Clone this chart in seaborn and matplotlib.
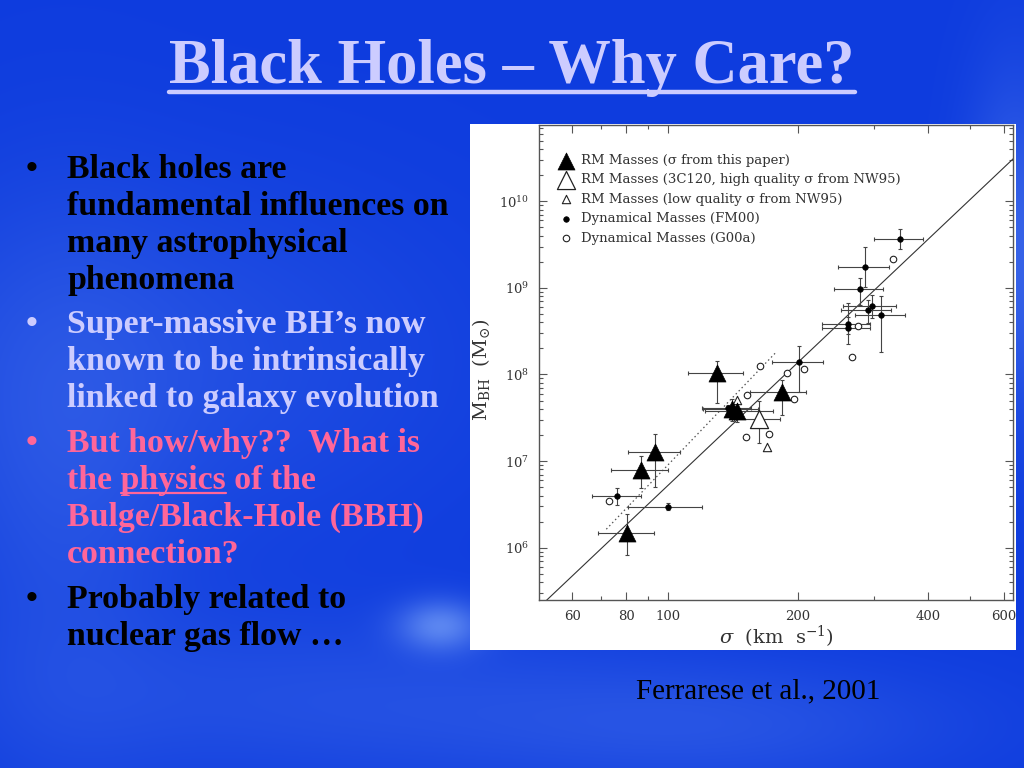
import numpy as np
import pandas as pd
import matplotlib
matplotlib.use("Agg")
import matplotlib.pyplot as plt
import seaborn as sns
from matplotlib.ticker import FixedLocator, FixedFormatter, LogLocator, NullFormatter, LogFormatterSciNotation
from matplotlib.patches import Rectangle
from matplotlib.lines import Line2D

# ---------------- data ----------------
rm_sigma = [130, 140.4, 144.2, 183.2, 93.5, 86.6, 80.5]
rm_mass = [1.05e8, 3.95e7, 3.74e7, 6.3e7, 1.26e7, 7.95e6, 1.49e6]
rm_sig_lo = [111.5, 120.3, 122, 155, 80.8, 74, 68.9]
rm_sig_hi = [149, 162, 174.6, 209, 106.6, 100, 92.7]
rm_m_lo = [4.7e7, 2.9e7, 2.8e7, 3.4e7, 5.0e6, 4.9e6, 8.2e5]
rm_m_hi = [1.45e8, 5.2e7, 4.6e7, 8.6e7, 2.06e7, 1.16e7, 2.47e6]

c120_sigma = [162.4]
c120_mass = [3.1e7]
c120_sig_lo = [142.3]
c120_sig_hi = [182]
c120_m_lo = [1.62e7]
c120_m_hi = [4.9e7]

lowq_sigma = [144.2, 169.2]
lowq_mass = [5.1e7, 1.47e7]

fm_sigma = [345, 286, 278, 297, 290, 312, 261.5, 261.5, 201, 137.9, 76.4, 100]
fm_mass = [3.7e9, 1.72e9, 9.6e8, 6.1e8, 5.5e8, 4.8e8, 3.85e8, 3.4e8, 1.38e8, 4.05e7, 3.95e6, 2.97e6]
fm_sig_lo = [300, 248, 242, 254, 252, 271, 227, 227, 174.5, 120, 66.6, 80.8]
fm_sig_hi = [390, 324, 315, 337, 328, 354, 294, 294, 228, 156, 86.6, 120.2]
fm_m_lo = [2.84e9, 1.03e9, 6.4e8, 4.5e8, 3.9e8, 1.84e8, 2.9e8, 2.25e8, 6.3e7, 3.6e7, 3.1e6, 2.7e6]
fm_m_hi = [4.85e9, 3.0e9, 1.3e9, 8.3e8, 7.3e8, 8.0e8, 6.7e8, 4.6e8, 2.15e8, 4.5e7, 4.86e6, 3.3e6]

g00_sigma = [331, 274.7, 267, 163, 188.5, 206, 152.6, 196, 151.4, 171, 73]
g00_mass = [2.15e9, 3.6e8, 1.58e8, 1.24e8, 1.04e8, 1.15e8, 5.8e7, 5.2e7, 1.88e7, 2.05e7, 3.5e6]

# fitted relations: log M = logM_ref + slope * log(sigma / sigma_ref)
fit_slope, fit_logm_ref, fit_sig_ref, fit_range = 4.72, 8.14, 200.0, (45, 700)
dot_slope, dot_logm_ref, dot_sig_ref, dot_range = 5.2, 8.245, 177.0, (72, 177)

x_major = [60, 80, 100, 200, 400, 600]
x_minor = [70, 90, 300, 500]

legend_labels = [
    "RM Masses (\u03c3 from this paper)",
    "RM Masses (3C120, high quality \u03c3 from NW95)",
    "RM Masses (low quality \u03c3 from NW95)",
    "Dynamical Masses (FM00)",
    "Dynamical Masses (G00a)",
]

title = "Black Holes \u2013 Why Care?"
para1 = ["Black holes are", "fundamental influences on", "many astrophysical", "phenomena"]
para2 = ["Super-massive BH\u2019s now", "known to be intrinsically", "linked to galaxy evolution"]
para3 = ["But how/why??  What is", "the physics of the", "Bulge/Black-Hole (BBH)", "connection?"]
para4 = ["Probably related to", "nuclear gas flow \u2026"]
caption = "Ferrarese et al., 2001"

# ---------------- figure ----------------
sns.set_style("ticks")
plt.rcParams["font.family"] = ["DejaVu Serif"]
plt.rcParams["mathtext.fontset"] = "dejavuserif"

W, H = 1024, 768
fig = plt.figure(figsize=(W / 100, H / 100), dpi=100)

# background
bg = fig.add_axes([0, 0, 1, 1], zorder=-10)
yy, xx = np.mgrid[0:H, 0:W].astype(float)
base = np.array([14, 60, 222]) / 255
light = np.array([150, 190, 255]) / 255
blobs = [(440, 625, 30, 18, 0.5), (1015, 250, 35, 120, 0.3), (150, 360, 220, 130, 0.14),
         (320, 700, 220, 60, 0.14), (720, 725, 180, 45, 0.16), (60, 520, 80, 200, 0.12)]
wgt = np.zeros((H, W))
for cx, cy, sx, sy, a in blobs:
    wgt += a * np.exp(-(((xx - cx) / sx) ** 2 + ((yy - cy) / sy) ** 2) / 2)
wgt = np.clip(wgt, 0, 1)[..., None]
img = base * (1 - wgt) + light * wgt
bg.imshow(img, extent=[0, 1, 0, 1], aspect="auto", origin="upper")
bg.set_axis_off()


def fx(px):
    return px / W


def fy(py):
    return 1 - py / H


# white panel behind the plot
fig.add_artist(Rectangle((fx(470), fy(650)), fx(546), 526 / H, transform=fig.transFigure,
                         facecolor="white", edgecolor="none", zorder=-5))

ax = fig.add_axes([fx(539), fy(600), fx(1013 - 539), (600 - 125) / H], zorder=2)
ax.set_facecolor("white")
ax.set_xscale("log")
ax.set_yscale("log")
ax.set_xlim(50.3, 629)
ax.set_ylim(2.49e5, 7.6e10)

ecol = "#444444"
# fit lines
sl = np.geomspace(*fit_range, 60)
ax.plot(sl, 10 ** (fit_logm_ref + fit_slope * np.log10(sl / fit_sig_ref)), color="#333333", lw=0.8, zorder=1)
sd = np.geomspace(*dot_range, 40)
ax.plot(sd, 10 ** (dot_logm_ref + dot_slope * np.log10(sd / dot_sig_ref)), color="#555555", lw=0.9,
        ls=(0, (1.2, 2.2)), zorder=1)


def ebars(s, m, slo, shi, mlo, mhi):
    s, m = np.array(s), np.array(m)
    ax.errorbar(s, m, xerr=[s - np.array(slo), np.array(shi) - s], yerr=[m - np.array(mlo), np.array(mhi) - m],
                fmt="none", ecolor=ecol, elinewidth=0.8, capsize=1.5, capthick=0.8, zorder=2)


ebars(fm_sigma, fm_mass, fm_sig_lo, fm_sig_hi, fm_m_lo, fm_m_hi)
ebars(rm_sigma, rm_mass, rm_sig_lo, rm_sig_hi, rm_m_lo, rm_m_hi)
ebars(c120_sigma, c120_mass, c120_sig_lo, c120_sig_hi, c120_m_lo, c120_m_hi)

sns.scatterplot(x=g00_sigma, y=g00_mass, marker="o", s=22, facecolor="white", edgecolor="#222222",
                linewidth=0.8, ax=ax, label=legend_labels[4], zorder=3)
sns.scatterplot(x=fm_sigma, y=fm_mass, marker="o", s=16, color="black", edgecolor="black",
                linewidth=0.5, ax=ax, label=legend_labels[3], zorder=4)
sns.scatterplot(x=lowq_sigma, y=lowq_mass, marker="^", s=36, facecolor="white", edgecolor="#222222",
                linewidth=0.8, ax=ax, label=legend_labels[2], zorder=3)
sns.scatterplot(x=c120_sigma, y=c120_mass, marker="^", s=170, facecolor="white", edgecolor="#222222",
                linewidth=0.9, ax=ax, label=legend_labels[1], zorder=4)
sns.scatterplot(x=rm_sigma, y=rm_mass, marker="^", s=150, color="black", edgecolor="black",
                linewidth=0.5, ax=ax, label=legend_labels[0], zorder=5)

# ticks
ax.xaxis.set_major_locator(FixedLocator(x_major))
ax.xaxis.set_major_formatter(FixedFormatter([str(v) for v in x_major]))
ax.xaxis.set_minor_locator(FixedLocator(x_minor))
ax.xaxis.set_minor_formatter(NullFormatter())
ax.yaxis.set_major_locator(LogLocator(base=10, numticks=20))
ax.yaxis.set_major_formatter(LogFormatterSciNotation())
ax.yaxis.set_minor_locator(LogLocator(base=10, subs=np.arange(2, 10), numticks=20))
ax.yaxis.set_minor_formatter(NullFormatter())
ax.tick_params(which="both", direction="in", top=True, right=True, color="#555555", width=0.8,
               labelsize=9.5, labelcolor="#333333")
ax.tick_params(which="major", length=6, pad=7)
ax.tick_params(which="minor", length=3)
for sp in ax.spines.values():
    sp.set_color("#555555")
    sp.set_linewidth(1.0)
    sp.set_visible(True)

ax.set_xlabel(r"$\sigma$  (km  s$^{-1}$)", fontsize=14, color="#333333")
ax.set_ylabel(r"M$_{\rm BH}$  (M$_{\odot}$)", fontsize=14, color="#333333")
ax.xaxis.set_label_coords((776 - 539) / 474, (600 - 637) / 475)
ax.xaxis.label.set_va("center")
ax.yaxis.set_label_coords((481 - 539) / 474, (600 - 370) / 475)
ax.yaxis.label.set_va("center")

handles, labels = ax.get_legend_handles_labels()
order = [labels.index(l) for l in legend_labels]
leg = ax.legend([handles[i] for i in order], [labels[i] for i in order], loc="upper left",
                bbox_to_anchor=(19 / 474, (600 - 154) / 475), frameon=False, fontsize=9.5,
                borderpad=0, borderaxespad=0, handlelength=1.2, handletextpad=0.55,
                labelspacing=0.49, scatterpoints=1)
for t in leg.get_texts():
    t.set_color("#333333")

# ---------------- slide text ----------------
serif = "Liberation Serif"
lav = "#ccccff"
pink = "#ff6699"
fs_body = 24.4
tt = fig.text(0.5, fy(83), title, ha="center", va="baseline", fontsize=45, fontweight="bold",
              family=serif, color=lav)
fig.canvas.draw()
r = fig.canvas.get_renderer()
bb = tt.get_window_extent(r)
fig.add_artist(Line2D([bb.x0 / W, bb.x1 / W], [fy(92), fy(92)], transform=fig.transFigure,
                      color=lav, lw=3.2))

x_text = fx(67)
x_bul = fx(26)
paras = [(para1, [178, 215, 252, 289], "black"),
         (para2, [333, 370, 407], lav),
         (para3, [452, 489, 526, 563], pink),
         (para4, [608, 645], "black")]
for lines, ys, col in paras:
    fig.text(x_bul, fy(ys[0]), "\u2022", ha="left", va="baseline", fontsize=fs_body, fontweight="bold",
             family=serif, color=col)
    for line, yb in zip(lines, ys):
        fig.text(x_text, fy(yb), line, ha="left", va="baseline", fontsize=fs_body, fontweight="bold",
                 family=serif, color=col)


def twidth(s):
    t = fig.text(0, 0, s, fontsize=fs_body, fontweight="bold", family=serif, alpha=0)
    w = t.get_window_extent(r).width
    t.remove()
    return w


w_full = twidth("the physics")
w_word = twidth("physics")
x0 = 67 + w_full - w_word
fig.add_artist(Line2D([fx(x0), fx(67 + w_full)], [fy(493), fy(493)], transform=fig.transFigure,
                      color=pink, lw=1.6))

fig.text(fx(758), fy(698), caption, ha="center", va="baseline", fontsize=21, family=serif, color="black")

fig.savefig("out.png", dpi=100)
